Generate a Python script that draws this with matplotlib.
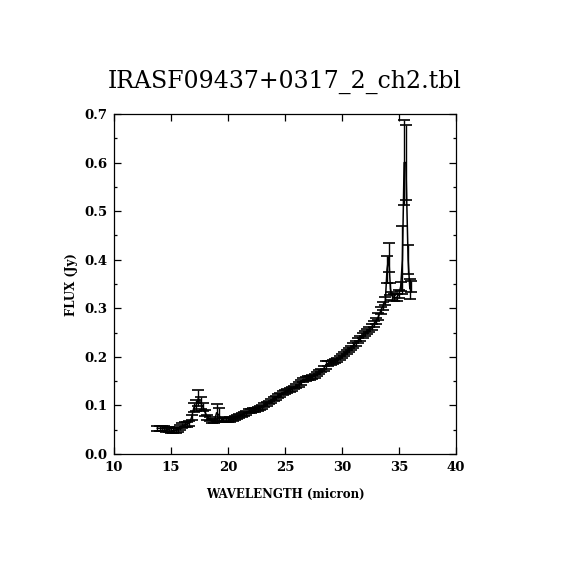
import numpy as np
import matplotlib
matplotlib.use("Agg")
import matplotlib.pyplot as plt
from matplotlib.ticker import MultipleLocator, FormatStrFormatter

# spectrum (micron, Jy, Jy)
wavelength = [13.8, 14.0, 14.2, 14.4, 14.6, 14.8, 15.0, 15.2, 15.4, 15.6,
              15.8, 16.0, 16.2, 16.4, 16.6, 16.8, 17.0, 17.2, 17.4, 17.6,
              17.8, 18.0, 18.2, 18.4, 18.6, 18.8, 19.0, 19.2, 19.4, 19.6,
              19.8, 20.0, 20.2, 20.4, 20.6, 20.8, 21.0, 21.2, 21.4, 21.6,
              21.8, 22.0, 22.2, 22.4, 22.6, 22.8, 23.0, 23.2, 23.4, 23.6,
              23.8, 24.0, 24.2, 24.4, 24.6, 24.8, 25.0, 25.2, 25.4, 25.6,
              25.8, 26.0, 26.2, 26.4, 26.6, 26.8, 27.0, 27.2, 27.4, 27.6,
              27.8, 28.0, 28.2, 28.4, 28.6, 28.8, 29.0, 29.2, 29.4, 29.6,
              29.8, 30.0, 30.2, 30.4, 30.6, 30.8, 31.0, 31.2, 31.4, 31.6,
              31.8, 32.0, 32.2, 32.4, 32.6, 32.8, 33.0, 33.2, 33.4, 33.6,
              33.8, 33.95, 34.1, 34.25, 34.4, 34.6, 34.8, 35.0, 35.15, 35.3,
              35.45, 35.6, 35.8, 35.95, 36.05]

flux = [0.053, 0.053, 0.052, 0.052, 0.051, 0.050, 0.049, 0.048, 0.049, 0.050,
        0.054, 0.058, 0.060, 0.061, 0.063, 0.075, 0.095, 0.100, 0.115, 0.105,
        0.097, 0.085, 0.076, 0.072, 0.068, 0.068, 0.085, 0.080, 0.072, 0.070,
        0.070, 0.070, 0.071, 0.072, 0.074, 0.076, 0.078, 0.080, 0.082, 0.085,
        0.088, 0.089, 0.090, 0.091, 0.093, 0.095, 0.097, 0.100, 0.103, 0.106,
        0.109, 0.113, 0.116, 0.119, 0.122, 0.125, 0.127, 0.130, 0.132, 0.134,
        0.137, 0.140, 0.143, 0.148, 0.152, 0.154, 0.156, 0.157, 0.159, 0.161,
        0.164, 0.168, 0.172, 0.176, 0.184, 0.187, 0.188, 0.190, 0.192, 0.194,
        0.197, 0.201, 0.205, 0.210, 0.215, 0.219, 0.223, 0.228, 0.233, 0.238,
        0.244, 0.248, 0.252, 0.257, 0.262, 0.268, 0.274, 0.283, 0.295, 0.305,
        0.315, 0.380, 0.405, 0.340, 0.325, 0.322, 0.322, 0.330, 0.345, 0.400,
        0.600, 0.600, 0.400, 0.340, 0.345]

flux_err = [0.005, 0.005, 0.005, 0.005, 0.005, 0.005, 0.005, 0.005, 0.005, 0.005,
            0.005, 0.005, 0.005, 0.005, 0.005, 0.006, 0.009, 0.012, 0.016, 0.013,
            0.008, 0.006, 0.005, 0.005, 0.005, 0.005, 0.017, 0.015, 0.005, 0.005,
            0.005, 0.005, 0.005, 0.005, 0.005, 0.004, 0.004, 0.004, 0.004, 0.004,
            0.004, 0.004, 0.004, 0.004, 0.004, 0.004, 0.004, 0.004, 0.004, 0.004,
            0.004, 0.004, 0.004, 0.004, 0.004, 0.004, 0.004, 0.004, 0.004, 0.004,
            0.004, 0.004, 0.005, 0.005, 0.004, 0.004, 0.004, 0.004, 0.004, 0.004,
            0.004, 0.004, 0.004, 0.005, 0.008, 0.005, 0.004, 0.004, 0.004, 0.004,
            0.004, 0.004, 0.004, 0.004, 0.004, 0.004, 0.005, 0.005, 0.005, 0.005,
            0.005, 0.005, 0.005, 0.005, 0.006, 0.006, 0.006, 0.007, 0.007, 0.008,
            0.008, 0.027, 0.030, 0.012, 0.008, 0.008, 0.008, 0.008, 0.010, 0.070,
            0.087, 0.078, 0.030, 0.020, 0.012]

title = "IRASF09437+0317_2_ch2.tbl"

plt.rcParams['font.family'] = ['DejaVu Serif']

fig = plt.figure(figsize=(5.7, 5.7), dpi=100)
ax = fig.add_axes([0.2, 0.2035, 0.6, 0.5965])

ax.errorbar(wavelength, flux, yerr=flux_err, color='black', lw=1.1,
            elinewidth=1.0, capsize=4.5, capthick=1.2)

ax.set_xlim(10, 40)
ax.set_ylim(0, 0.7)
ax.xaxis.set_major_locator(MultipleLocator(5))
ax.yaxis.set_major_locator(MultipleLocator(0.1))
ax.yaxis.set_minor_locator(MultipleLocator(0.05))
ax.yaxis.set_major_formatter(FormatStrFormatter('%.1f'))
ax.tick_params(which='both', direction='in', top=True, right=True,
               width=0.9, labelsize=9.5, pad=5)
ax.tick_params(which='major', length=5)
ax.tick_params(which='minor', length=2.5)
for lab in ax.get_xticklabels() + ax.get_yticklabels():
    lab.set_fontweight('bold')
for sp in ax.spines.values():
    sp.set_linewidth(0.9)

fig.text(0.5, 0.133, 'WAVELENGTH (micron)', ha='center', va='center',
         fontsize=8.5, fontweight='bold')
fig.text(0.126, 0.5, 'FLUX (Jy)', ha='center', va='center', rotation=90,
         fontsize=8.5, fontweight='bold')
fig.text(0.5, 0.856, title, ha='center', va='center', fontsize=17)

fig.savefig('out.png', dpi=100)
